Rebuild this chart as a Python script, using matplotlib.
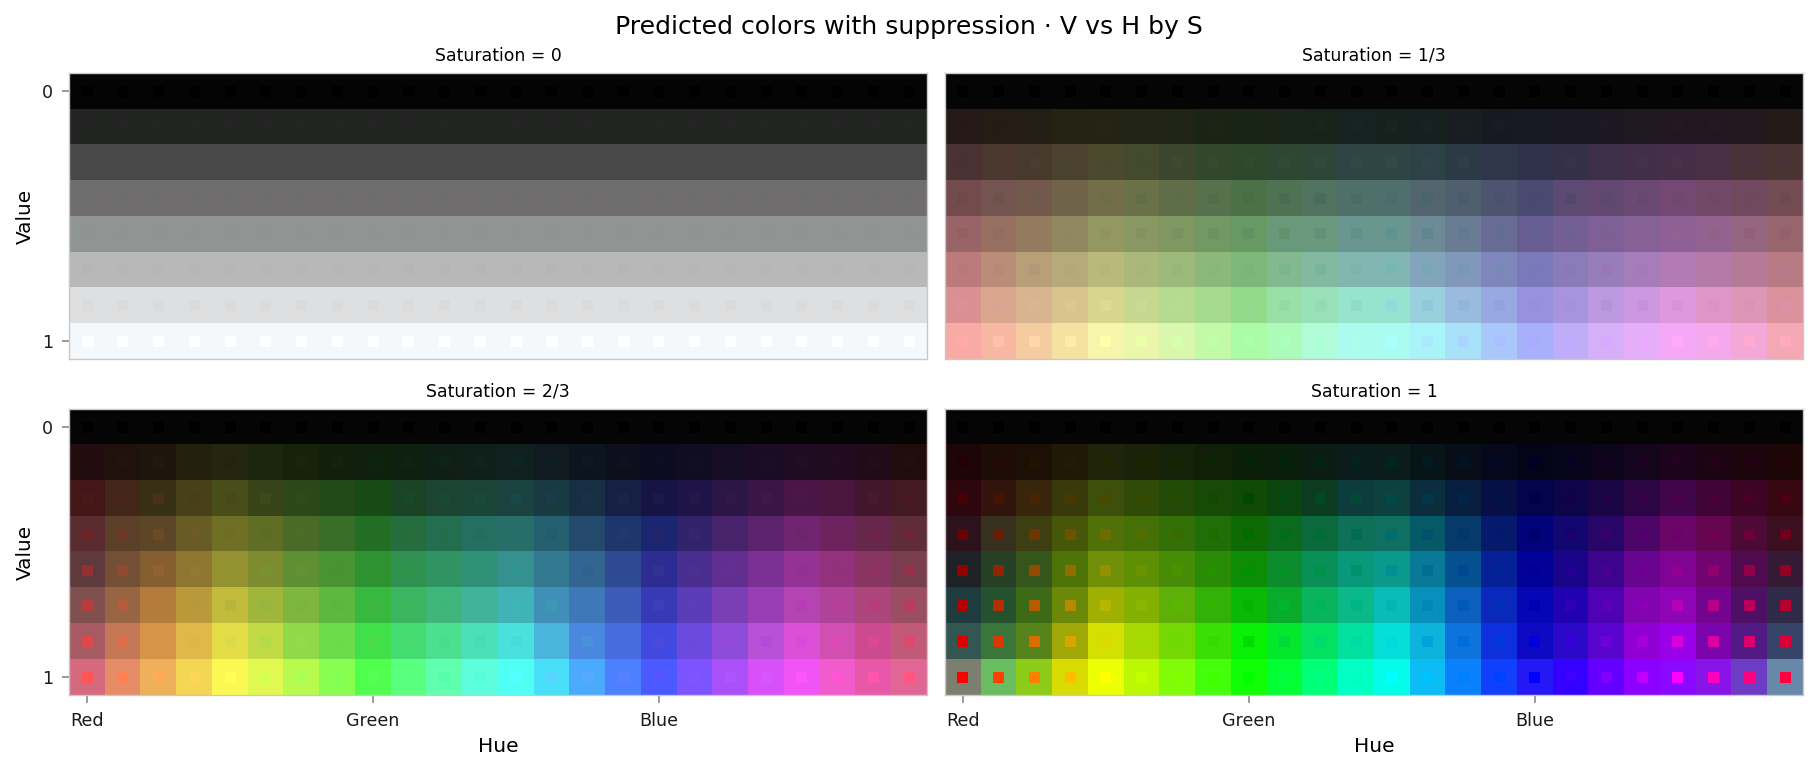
import matplotlib
matplotlib.use("Agg")
import numpy as np
import matplotlib.pyplot as plt
from matplotlib.colors import hsv_to_rgb, to_rgb

# grid the targets were sampled on
hues = [0, 15, 30, 45, 60, 75, 90, 105, 120, 135, 150, 165,
        180, 195, 210, 225, 240, 255, 270, 285, 300, 315, 330, 345]
values = [0, 1/7, 2/7, 3/7, 4/7, 5/7, 6/7, 1]
saturations = [0, 1/3, 2/3, 1]
sat_labels = ["0", "1/3", "2/3", "1"]
hue_ticks = ["Red", "Green", "Blue"]
hue_tick_idx = [0, 8, 16]

# predicted colours, one list per value row
row_black = ["#060506"] * 24

pred_s0 = [
    ["#050405"] * 24,
    ["#222422"] * 24,
    ["#484848"] * 24,
    ["#6f6d6d"] * 24,
    ["#909492"] * 24,
    ["#b8b8b8"] * 24,
    ["#dedfe1"] * 24,
    ["#f4f8fb"] * 24,
]

pred_s1 = [
    row_black,
    ["#261a18", "#261c16", "#241d15", "#232213", "#232413", "#222515", "#202414", "#1a2415", "#192316", "#192317", "#182318", "#16221f",
     "#16211d", "#16201f", "#171d20", "#161a20", "#171a23", "#1a1822", "#1b1822", "#1e1822", "#211722", "#221720", "#22171c", "#241a17"],
    ["#4a3234", "#4a382f", "#473a2d", "#4a412e", "#4c4a2e", "#434a2e", "#3c462c", "#33482a", "#2d482b", "#2e4733", "#2c4638", "#2d4644",
     "#2d4644", "#2c4246", "#2c3a46", "#2f354a", "#2d314a", "#35304a", "#3d2f4a", "#412f4a", "#452e47", "#4a2f44", "#4a3138", "#4a3333"],
    ["#744b4d", "#745450", "#72594b", "#716349", "#736e49", "#6a7149", "#5f6d48", "#56714c", "#4c7146", "#4f7352", "#50725f", "#4f7069",
     "#4f6f6d", "#52656f", "#505f6e", "#4e5370", "#494a70", "#5c4a72", "#624770", "#6a4972", "#734872", "#724968", "#71495f", "#734d53"],
    ["#986468", "#977062", "#937b60", "#928860", "#939860", "#899862", "#7f9862", "#729964", "#679a63", "#68997a", "#6a987c", "#6a9690",
     "#6a9690", "#6c8b95", "#6a7c94", "#686c94", "#675d93", "#745f95", "#7f6096", "#866196", "#8f6096", "#926390", "#946680", "#96656d"],
    ["#bb7b7b", "#ba8d78", "#b89f78", "#b6a97a", "#b8b97b", "#aab97b", "#9bba7b", "#8cb87b", "#7eb878", "#83b98f", "#82b9a0", "#82b6b0",
     "#82b6b2", "#82a5bc", "#8198bc", "#7f86bb", "#7b79b9", "#8a7cb9", "#987dbb", "#a67cbb", "#b37bb6", "#b47ba8", "#b47a98", "#b87b84"],
    ["#da9091", "#dba68e", "#d8b490", "#d8c58d", "#d8d58e", "#c6d78f", "#b5da90", "#a6db8f", "#94da8b", "#99e0a8", "#97e0b8", "#96e4cc",
     "#96e4d0", "#98d0dd", "#98bbde", "#98a8e0", "#9891e0", "#a894de", "#bc99e0", "#cc99e0", "#de98dd", "#de96c8", "#dc96b8", "#d9919c"],
    ["#f7aba4", "#f6b8a0", "#f4cca0", "#f5e2a2", "#f5f5ac", "#eaf6ac", "#d9f8ae", "#c2faa8", "#abfca4", "#adfbb8", "#b0fbd8", "#acfbef",
     "#abfcf0", "#a9f4f8", "#a8e2f8", "#a8c8f9", "#a9b0fb", "#c0adf8", "#d5aff8", "#e6aef8", "#f4a8f6", "#f4a8ee", "#f4a8d8", "#f4a8b4"],
]

pred_s2 = [
    row_black,
    ["#210c0f", "#20110f", "#1e150c", "#23210e", "#25260f", "#1c260f", "#17220a", "#12200b", "#0f200c", "#0e200f", "#0f1f18", "#0f201a",
     "#0f201f", "#0f1b1f", "#0c141d", "#0d0f1c", "#0c0b22", "#100c22", "#150d22", "#1a0c22", "#200c22", "#200c1e", "#200c18", "#210c0c"],
    ["#431718", "#432618", "#373015", "#474018", "#494d1a", "#374417", "#2b4816", "#214a18", "#174a15", "#1b4427", "#1b4433", "#1a4435",
     "#1a4340", "#1a3a42", "#182e42", "#162044", "#151444", "#1e1448", "#2c1646", "#3a1646", "#4a1648", "#4a1640", "#42162c", "#431a22"],
    ["#5a2c2f", "#5b3f28", "#5d4628", "#685c26", "#6f7026", "#5f6e22", "#496b27", "#396e28", "#236e25", "#256d3f", "#246e50", "#246e62",
     "#276e68", "#256070", "#234a6d", "#1f356d", "#1c2570", "#30236c", "#46236a", "#5a236c", "#702570", "#6d245e", "#65274a", "#5e2c3a"],
    ["#5e3a3c", "#744f35", "#855f2f", "#8e7530", "#949230", "#7d8c2e", "#5e8f33", "#489432", "#2e9230", "#2e9150", "#309462", "#2f9178",
     "#36908f", "#337a90", "#326590", "#2e4a92", "#2c2c92", "#492e90", "#622e90", "#7c3095", "#943296", "#92327c", "#883562", "#783e50"],
    ["#7f504e", "#976541", "#b37c3b", "#ba993a", "#c3bb3c", "#a0b63a", "#7eb63e", "#5cb83f", "#37b83f", "#3bb560", "#40b57c", "#40b39a",
     "#40b3b8", "#3f8fb8", "#3f78b8", "#3e5ab8", "#3839b6", "#5a3bb8", "#7a3eb5", "#963eb2", "#b444b2", "#b04398", "#ac457a", "#9b4d62"],
    ["#a65b62", "#c57856", "#d69449", "#e0b84a", "#e4dd48", "#c3da47", "#90da4a", "#6cdc4a", "#3fe04a", "#44dc70", "#4ae090", "#4ae0b8",
     "#4ae0dc", "#4ab4dc", "#4a88e0", "#466ce0", "#4249e0", "#6c4ae0", "#8e4ad8", "#b850d8", "#dc50d8", "#d04fb0", "#cc4a90", "#c05a78"],
    ["#d4697f", "#e68d67", "#eeb05a", "#f4d654", "#fbf854", "#e0f850", "#b8fb4e", "#88ff50", "#50ff4e", "#5aff80", "#60ffb0", "#5efedc",
     "#50fff4", "#48e0f8", "#4caafc", "#4c80fc", "#4a5aff", "#7c54ff", "#aa50f8", "#d850f8", "#f054f4", "#f05ccc", "#e858a8", "#e06694"],
]

pred_s3 = [
    row_black,
    ["#1e0608", "#1e0c06", "#1c0f06", "#1e1a05", "#20240a", "#1a2308", "#152108", "#0f1f08", "#0b1f08", "#0a1f0b", "#0a1c14", "#0b1c1c",
     "#0b1c1a", "#081518", "#070e18", "#05081a", "#040418", "#07051a", "#0c051a", "#12051c", "#1c051c", "#1c0512", "#1c050c", "#1c0606"],
    ["#2e060e", "#33140c", "#38260c", "#383a0c", "#3c500c", "#304a08", "#224a06", "#174a06", "#104a06", "#0c4410", "#0c3c20", "#0c3c3c",
     "#0d403e", "#0c2d3e", "#081e3e", "#061046", "#04044c", "#0d0548", "#1a0544", "#2c0544", "#40054a", "#400534", "#3c0524", "#380812"],
    ["#2c121a", "#36301e", "#3d3e12", "#47570a", "#527008", "#457008", "#347008", "#206e08", "#0f6a05", "#0c6a1e", "#0a6a3c", "#0f7058",
     "#0f7062", "#065a68", "#063a6a", "#061a6c", "#02027a", "#120670", "#280668", "#4c0668", "#6a0668", "#650650", "#4e0a36", "#3a1020"],
    ["#1e2226", "#264026", "#34561a", "#4e7408", "#6f9008", "#5e9006", "#468c06", "#2a8c06", "#0d8c06", "#0c8c2c", "#089056", "#0a987a",
     "#0a9a8c", "#087a98", "#055090", "#062098", "#020298", "#1a048a", "#3c048c", "#680490", "#800494", "#700470", "#500a4e", "#341a34"],
    ["#1e3c3e", "#24522e", "#3c6a16", "#6c8808", "#a0b002", "#84b002", "#5eb008", "#32b208", "#0ab806", "#08ac2a", "#0ab45c", "#0ab888",
     "#0abcb8", "#0890bc", "#0a60bc", "#0a28bc", "#0606b4", "#2002b0", "#4e02b4", "#8004b0", "#9004b8", "#740490", "#4e1064", "#2e2a48"],
    ["#345650", "#3a763c", "#56841a", "#a0a808", "#d4e002", "#a8d804", "#74d804", "#3ae004", "#08f004", "#04e82c", "#04e060", "#04e0a0",
     "#04e0d8", "#0cb4dc", "#0c74dc", "#0e30dc", "#0e0ac4", "#2c08c8", "#5a04d0", "#9000d4", "#9a00e8", "#7c04ac", "#521a84", "#36446a"],
    ["#7c7e70", "#6abc60", "#8ccc18", "#d8dc04", "#ecff04", "#bcf804", "#80fc08", "#44ff0c", "#10ff04", "#02ff34", "#02ff78", "#02ffc4",
     "#04fce8", "#0cbcf4", "#0a80fa", "#1040fc", "#2418f4", "#3400ff", "#6400ff", "#8c00ff", "#8a08ff", "#8814e8", "#6c3cc4", "#6888aa"],
]

panels = [pred_s0, pred_s1, pred_s2, pred_s3]

W, H = 1817, 771
fig = plt.figure(figsize=(W / 200, H / 200), dpi=200)

# axes boxes in pixels: left, top, right, bottom
boxes = [(69.3, 73.2, 927, 359), (945, 73.2, 1803, 359),
         (69.3, 409.2, 927, 695.2), (945, 409.2, 1803, 695.2)]

for i, (box, pred, s) in enumerate(zip(boxes, panels, saturations)):
    l, t, r, b = box
    ax = fig.add_axes([l / W, 1 - b / H, (r - l) / W, (b - t) / H])
    rgb = np.array([[to_rgb(c) for c in row] for row in pred])
    ax.imshow(rgb, aspect="auto", interpolation="nearest")

    # true colour of each cell as a small square
    hh, vv = np.meshgrid(np.arange(len(hues)), np.arange(len(values)))
    hsv = np.stack([np.array(hues)[hh.ravel()] / 360,
                    np.full(hh.size, s),
                    np.array(values)[vv.ravel()]], axis=1)
    ax.scatter(hh.ravel(), vv.ravel(), c=hsv_to_rgb(hsv), marker="s", s=15.7, linewidths=0)
    ax.set_xlim(-0.5, 23.5)
    ax.set_ylim(7.5, -0.5)

    ax.set_title("Saturation = " + sat_labels[i], fontsize=6.2, pad=4.4)
    for sp in ax.spines.values():
        sp.set_color("#c8c8c8")
        sp.set_linewidth(0.5)
    ax.tick_params(length=2.7, width=0.6, color="#888888", labelsize=6.3, pad=3.2, labelcolor="#1a1a1a")
    ax.tick_params(axis="x", pad=3.2)

    if i >= 2:
        ax.set_xticks(hue_tick_idx)
        ax.set_xticklabels(hue_ticks)
        ax.set_xlabel("Hue", fontsize=7.3, labelpad=2.6)
    else:
        ax.set_xticks([])
    if i % 2 == 0:
        ax.set_yticks([0, 7])
        ax.set_yticklabels(["0", "1"])
        ax.set_ylabel("Value", fontsize=7.2, labelpad=2.6)
    else:
        ax.set_yticks([])

fig.text(908.5 / W, 1 - 27 / H, "Predicted colors with suppression · V vs H by S",
         ha="center", va="center", fontsize=9.05)

fig.savefig("out.png", dpi=200)
